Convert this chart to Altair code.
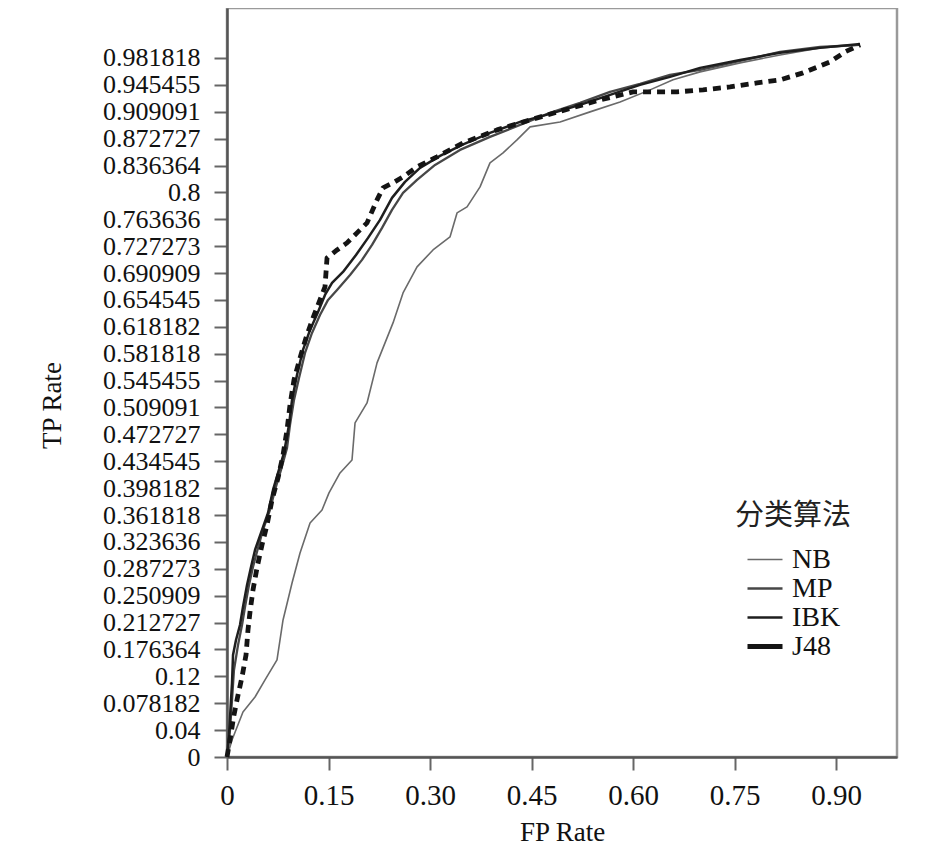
import altair as alt
import pandas as pd

# ---- data (FP rate, TP rate) ----
nb_x = [0, 0.0074, 0.0236, 0.0414, 0.0562, 0.0739, 0.0828, 0.0961, 0.1079, 0.1227, 0.1404, 0.1507,
        0.1670, 0.1847, 0.1892, 0.2069, 0.2217, 0.2453, 0.2601, 0.2808, 0.3044, 0.3295, 0.3399, 0.3547,
        0.3739, 0.3886, 0.4079, 0.4285, 0.4478, 0.4921, 0.5364, 0.5808, 0.6251, 0.6591, 0.6990, 0.7581,
        0.8172, 0.8763, 0.9354]
nb_y = [0, 0.0239, 0.0632, 0.0843, 0.1082, 0.1363, 0.1925, 0.2444, 0.2866, 0.3287, 0.3470, 0.3709,
        0.3990, 0.4172, 0.4692, 0.4973, 0.5535, 0.6097, 0.6518, 0.6884, 0.7122, 0.7305, 0.7642, 0.7726,
        0.8007, 0.8344, 0.8485, 0.8668, 0.8850, 0.8920, 0.9061, 0.9201, 0.9370, 0.9511, 0.9623, 0.9749,
        0.9861, 0.9960, 1.0002]

mp_x = [0, 0.0044, 0.0074, 0.0103, 0.0163, 0.0222, 0.0266, 0.0325, 0.0384, 0.0458, 0.0532, 0.0635,
        0.0709, 0.0798, 0.0887, 0.0931, 0.0990, 0.1064, 0.1153, 0.1256, 0.1374, 0.1493, 0.1626, 0.1818,
        0.1995, 0.2143, 0.2291, 0.2438, 0.2601, 0.2808, 0.3074, 0.3443, 0.3886, 0.4330, 0.4773, 0.5217,
        0.5660, 0.6103, 0.6546, 0.6990, 0.7581, 0.8172, 0.8763, 0.9354]
mp_y = [0, 0.0379, 0.0801, 0.1222, 0.1573, 0.1854, 0.2107, 0.2416, 0.2669, 0.2936, 0.3189, 0.3470,
        0.3751, 0.4032, 0.4341, 0.4664, 0.5015, 0.5324, 0.5675, 0.5956, 0.6209, 0.6420, 0.6560, 0.6771,
        0.6982, 0.7193, 0.7431, 0.7684, 0.7923, 0.8106, 0.8316, 0.8527, 0.8710, 0.8878, 0.9047, 0.9187,
        0.9342, 0.9454, 0.9581, 0.9651, 0.9777, 0.9904, 0.9974, 1.0002]

ibk_x = [0, 0.0030, 0.0059, 0.0074, 0.0089, 0.0133, 0.0192, 0.0236, 0.0296, 0.0355, 0.0414, 0.0502,
         0.0606, 0.0680, 0.0754, 0.0842, 0.0916, 0.0961, 0.1034, 0.1123, 0.1227, 0.1345, 0.1448, 0.1552,
         0.1714, 0.1906, 0.2084, 0.2261, 0.2438, 0.2630, 0.2852, 0.3148, 0.3473, 0.3886, 0.4330, 0.4773,
         0.5217, 0.5660, 0.6103, 0.6546, 0.6990, 0.7581, 0.8172, 0.8763, 0.9354]
ibk_y = [0, 0.0309, 0.0801, 0.1040, 0.1433, 0.1644, 0.1854, 0.2107, 0.2416, 0.2669, 0.2908, 0.3147,
         0.3428, 0.3751, 0.3990, 0.4271, 0.4664, 0.5015, 0.5366, 0.5718, 0.5998, 0.6251, 0.6490, 0.6659,
         0.6813, 0.7052, 0.7291, 0.7544, 0.7853, 0.8078, 0.8274, 0.8443, 0.8597, 0.8766, 0.8920, 0.9033,
         0.9159, 0.9300, 0.9440, 0.9553, 0.9679, 0.9791, 0.9890, 0.9960, 1.0016]

j48_x = [0, 0.0044, 0.0103, 0.0163, 0.0222, 0.0281, 0.0310, 0.0340, 0.0384, 0.0443, 0.0517, 0.0591,
         0.0665, 0.0754, 0.0828, 0.0887, 0.0931, 0.0990, 0.1079, 0.1167, 0.1271, 0.1374, 0.1448, 0.1478,
         0.1626, 0.1773, 0.1921, 0.2069, 0.2217, 0.2305, 0.2453, 0.2601, 0.2808, 0.3103, 0.3488, 0.3990,
         0.4478, 0.4995, 0.5512, 0.6000, 0.6650, 0.7034, 0.7433, 0.7832, 0.8172, 0.8512, 0.8911, 0.9133,
         0.9354]
j48_y = [0, 0.0239, 0.0590, 0.0871, 0.1124, 0.1433, 0.1784, 0.2037, 0.2346, 0.2655, 0.2978, 0.3259,
         0.3610, 0.3919, 0.4243, 0.4594, 0.4945, 0.5296, 0.5605, 0.5886, 0.6167, 0.6420, 0.6603, 0.7010,
         0.7122, 0.7221, 0.7361, 0.7502, 0.7825, 0.7993, 0.8064, 0.8148, 0.8288, 0.8429, 0.8625, 0.8808,
         0.8948, 0.9089, 0.9229, 0.9342, 0.9342, 0.9370, 0.9412, 0.9468, 0.9511, 0.9609, 0.9763, 0.9904,
         1.0002]

series_names = ["NB", "MP", "IBK", "J48"]
series_colors = ["#6a6a6a", "#474747", "#1e1e1e", "#141414"]
series_widths = [1.6, 2.3, 2.5, 4.8]

y_tick_labels = ["0", "0.04", "0.078182", "0.12", "0.176364", "0.212727", "0.250909", "0.287273",
                 "0.323636", "0.361818", "0.398182", "0.434545", "0.472727", "0.509091", "0.545455",
                 "0.581818", "0.618182", "0.654545", "0.690909", "0.727273", "0.763636", "0.8",
                 "0.836364", "0.872727", "0.909091", "0.945455", "0.981818"]
x_tick_values = [0, 0.15, 0.30, 0.45, 0.60, 0.75, 0.90]
x_tick_labels = ["0", "0.15", "0.30", "0.45", "0.60", "0.75", "0.90"]

rows = []
for name, xs, ys in [("NB", nb_x, nb_y), ("MP", mp_x, mp_y), ("IBK", ibk_x, ibk_y), ("J48", j48_x, j48_y)]:
    for i, (a, b) in enumerate(zip(xs, ys)):
        rows.append({"算法": name, "fp": a, "tp": b, "idx": i})
df = pd.DataFrame(rows)

# y ticks are equally spaced; top label 0.981818 sits on the 26th tick
y_step = 0.981818 / 26
y_tick_values = [k * y_step for k in range(len(y_tick_labels))]
y_label_expr = "[" + ",".join("'%s'" % s for s in y_tick_labels) + "][round(datum.value / %f)]" % y_step
x_label_expr = "[" + ",".join("'%s'" % s for s in x_tick_labels) + "][round(datum.value / 0.15)]"

FONT = "Liberation Serif"

legend = alt.Legend(
    orient="none", legendX=508, legendY=494, padding=0,
    titleFont="Noto Sans CJK SC", titleFontSize=29, titleFontWeight="normal", titleColor="#222",
    titlePadding=16,
    labelFont=FONT, labelFontSize=28, labelColor="#111", labelOffset=7,
    symbolType="stroke", symbolSize=1225, symbolOffset=10, rowPadding=0, clipHeight=25,
)

x_enc = alt.X("fp:Q", scale=alt.Scale(domain=[0, 0.99], nice=False, zero=False),
              axis=alt.Axis(values=x_tick_values, labelExpr=x_label_expr, title="FP Rate",
                            titleY=75, titleBaseline="middle", labelPadding=11, tickSize=13,
                            labelFontSize=29, titleFontSize=27, grid=False, labelFlush=False))
y_enc = alt.Y("tp:Q", scale=alt.Scale(domain=[0, 1.052], nice=False, zero=False),
              axis=alt.Axis(values=y_tick_values, labelExpr=y_label_expr, title="TP Rate",
                            titleX=-175, titleY=397, titleBaseline="middle", titleAngle=-90,
                            labelPadding=14, tickSize=13, labelFontSize=26, titleFontSize=27,
                            grid=False, labelOverlap=False, labelFlush=False))
color_enc = alt.Color("算法:N", scale=alt.Scale(domain=series_names, range=series_colors),
                      title="分类算法", legend=legend)
width_enc = alt.StrokeWidth("算法:N",
                            scale=alt.Scale(type="ordinal", domain=series_names, range=series_widths),
                            title="分类算法", legend=legend)

base = alt.Chart(df).encode(x=x_enc, y=y_enc, color=color_enc, strokeWidth=width_enc, order="idx:Q")

solid = base.transform_filter("datum['算法'] != 'J48'").mark_line(strokeJoin="round")
dashed = base.transform_filter("datum['算法'] == 'J48'").mark_line(strokeDash=[8, 6], strokeJoin="round")

chart = alt.layer(solid, dashed).properties(
    width=670, height=749,
    autosize=alt.AutoSizeParams(type="none"),
    padding={"left": 219, "top": 0, "right": 30, "bottom": 90},
).configure_view(
    stroke="#9a9a9a", strokeWidth=2.5
).configure_axis(
    labelFont=FONT, titleFont=FONT, labelColor="#111", titleColor="#111",
    titleFontWeight="normal", domainColor="#555", domainWidth=2.5,
    tickColor="#666", tickWidth=2
).configure_legend(
    labelFont=FONT, titleFont="Noto Sans CJK SC"
)

chart.save("out.html", embed_options={"renderer": "svg", "actions": False})
